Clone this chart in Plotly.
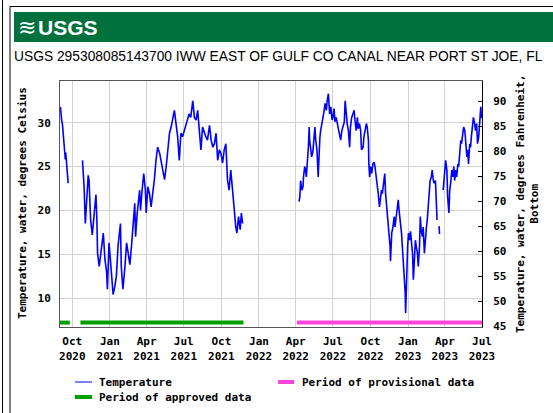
import plotly.graph_objects as go

# ---------------- data ----------------
seg1_dates = ["2020-09-02", "2020-09-03", "2020-09-05", "2020-09-07", "2020-09-09", "2020-09-11",
              "2020-09-13", "2020-09-14", "2020-09-15", "2020-09-17", "2020-09-19", "2020-09-21"]
seg1_temp = [31.8, 30.6, 30.3, 29.8, 28.4, 28.0, 26.3, 25.8, 26.6, 25.4, 24.0, 23.1]

seg2_dates = ["2020-10-26", "2020-10-28", "2020-10-30", "2020-11-02", "2020-11-05", "2020-11-09", "2020-11-11",
              "2020-11-15", "2020-11-19", "2020-11-24", "2020-11-28", "2020-11-30", "2020-12-02", "2020-12-06",
              "2020-12-09", "2020-12-12", "2020-12-16", "2020-12-20", "2020-12-24", "2020-12-26", "2020-12-30",
              "2021-01-03", "2021-01-09", "2021-01-13", "2021-01-17", "2021-01-21", "2021-01-27", "2021-01-29",
              "2021-02-02", "2021-02-07", "2021-02-11", "2021-02-15", "2021-02-19", "2021-02-23", "2021-02-27",
              "2021-03-03", "2021-03-05", "2021-03-09", "2021-03-15", "2021-03-17", "2021-03-21", "2021-03-25",
              "2021-03-29", "2021-03-31", "2021-04-04", "2021-04-08", "2021-04-12", "2021-04-16", "2021-04-20",
              "2021-04-24", "2021-04-28", "2021-05-03", "2021-05-07", "2021-05-11", "2021-05-15", "2021-05-19",
              "2021-05-23", "2021-05-27", "2021-05-31", "2021-06-04", "2021-06-08", "2021-06-12", "2021-06-16",
              "2021-06-20", "2021-06-24", "2021-06-28", "2021-07-02", "2021-07-06", "2021-07-10", "2021-07-14",
              "2021-07-18", "2021-07-23", "2021-07-27", "2021-07-31", "2021-08-04", "2021-08-08", "2021-08-12",
              "2021-08-16", "2021-08-20", "2021-08-24", "2021-08-28", "2021-09-02", "2021-09-06", "2021-09-10",
              "2021-09-14", "2021-09-18", "2021-09-22", "2021-09-26", "2021-09-30", "2021-10-04", "2021-10-08",
              "2021-10-12", "2021-10-16", "2021-10-20", "2021-10-24", "2021-10-28", "2021-11-01", "2021-11-05",
              "2021-11-08", "2021-11-12", "2021-11-16", "2021-11-19", "2021-11-22"]
seg2_temp = [25.7, 24.5, 22.7, 18.5, 21.0, 24.0, 23.5,
             18.9, 17.2, 19.7, 21.8, 19.3, 15.1, 13.6,
             14.8, 15.9, 17.4, 14.4, 13.0, 11.0, 16.3,
             14.0, 10.4, 11.3, 12.5, 15.9, 18.5, 13.6,
             11.0, 13.6, 16.3, 15.1, 13.8, 15.9, 18.5,
             20.8, 17.0, 19.7, 22.3, 20.0, 22.3, 24.2,
             22.3, 19.7, 22.7, 21.9, 20.4, 21.9, 23.5,
             25.7, 27.2, 26.5, 25.4, 24.6, 23.5, 25.0,
             27.2, 28.8, 29.5, 30.3, 31.4, 29.9, 28.4,
             25.7, 28.8, 28.4, 29.1, 29.9, 30.3, 31.0,
             30.6, 32.5, 30.6, 30.3, 31.4, 29.5, 26.9,
             29.5, 28.8, 28.4, 28.0, 29.7, 28.0, 27.2,
             27.6, 28.8, 25.7, 26.9, 26.5, 25.4, 26.9,
             27.6, 23.5, 22.3, 24.6, 21.9, 20.4, 18.2,
             17.4, 19.3, 17.8, 19.7, 18.5]

seg3_dates = ["2022-04-09", "2022-04-11", "2022-04-13", "2022-04-16", "2022-04-19", "2022-04-20", "2022-04-23",
              "2022-04-25", "2022-04-27", "2022-04-30", "2022-05-02", "2022-05-04", "2022-05-05", "2022-05-08",
              "2022-05-10", "2022-05-13", "2022-05-16", "2022-05-18", "2022-05-20", "2022-05-23", "2022-05-26",
              "2022-05-28", "2022-05-30", "2022-06-01", "2022-06-04", "2022-06-07", "2022-06-09", "2022-06-12",
              "2022-06-15", "2022-06-17", "2022-06-20", "2022-06-23", "2022-06-26", "2022-06-29", "2022-07-01",
              "2022-07-04", "2022-07-06", "2022-07-09", "2022-07-12", "2022-07-15", "2022-07-18", "2022-07-20",
              "2022-07-23", "2022-07-26", "2022-07-29", "2022-07-31", "2022-08-03", "2022-08-05", "2022-08-08",
              "2022-08-11", "2022-08-13", "2022-08-16", "2022-08-19", "2022-08-22", "2022-08-24", "2022-08-27",
              "2022-08-30", "2022-09-01", "2022-09-04", "2022-09-07", "2022-09-09", "2022-09-13", "2022-09-15",
              "2022-09-17", "2022-09-21", "2022-09-23", "2022-09-26", "2022-09-27", "2022-09-29", "2022-10-01",
              "2022-10-04", "2022-10-07", "2022-10-10", "2022-10-12", "2022-10-15", "2022-10-18", "2022-10-20",
              "2022-10-23", "2022-10-25", "2022-10-28", "2022-10-30", "2022-11-02", "2022-11-05", "2022-11-07",
              "2022-11-10", "2022-11-13", "2022-11-15", "2022-11-18", "2022-11-19", "2022-11-22", "2022-11-25",
              "2022-11-28", "2022-11-30", "2022-12-03", "2022-12-05", "2022-12-08", "2022-12-10", "2022-12-13",
              "2022-12-16", "2022-12-18", "2022-12-21", "2022-12-23", "2022-12-25", "2022-12-26", "2022-12-29",
              "2022-12-31", "2023-01-02", "2023-01-05", "2023-01-07", "2023-01-10", "2023-01-12", "2023-01-14",
              "2023-01-16", "2023-01-19", "2023-01-21", "2023-01-24", "2023-01-26", "2023-01-29", "2023-01-31",
              "2023-02-02", "2023-02-05", "2023-02-07", "2023-02-10", "2023-02-12", "2023-02-15", "2023-02-17",
              "2023-02-20", "2023-02-22", "2023-02-24", "2023-02-27", "2023-03-01", "2023-03-04", "2023-03-06",
              "2023-03-09", "2023-03-11", "2023-03-13"]
seg3_temp = [21.0, 21.5, 23.4, 22.3, 22.7, 23.8, 25.0,
             24.6, 23.8, 25.3, 27.2, 29.5, 28.0, 26.9,
             26.1, 26.7, 28.8, 29.5, 28.0, 26.9, 23.8,
             27.2, 28.2, 29.1, 29.9, 30.3, 31.2, 32.2,
             31.4, 32.5, 33.3, 31.0, 31.8, 30.3, 30.6,
             31.6, 30.1, 30.6, 29.9, 29.1, 28.6, 28.0,
             29.1, 29.5, 30.1, 32.5, 30.6, 29.9, 29.1,
             27.2, 29.5, 30.6, 31.0, 31.4, 30.3, 29.1,
             30.6, 29.3, 29.9, 29.1, 26.9, 27.2, 28.4,
             28.8, 29.9, 29.5, 28.0, 25.3, 23.8, 25.0,
             24.2, 25.3, 25.5, 25.0, 24.0, 22.7, 21.9,
             20.4, 21.5, 22.3, 21.9, 23.4, 24.2, 21.9,
             20.4, 18.9, 17.8, 15.9, 14.2, 17.4, 18.1,
             19.3, 18.1, 19.3, 20.4, 21.2, 20.0, 18.9,
             17.4, 15.9, 14.0, 12.5, 10.6, 8.3, 13.6,
             15.9, 17.4, 16.6, 17.6, 16.3, 15.1, 12.1,
             14.4, 16.6, 15.9, 15.1, 13.6, 15.9, 19.3,
             17.8, 17.0, 18.1, 15.1, 16.6, 18.1, 18.9,
             21.5, 22.3, 23.4, 23.8, 24.6, 23.4, 23.1,
             23.4, 21.5, 18.9]

seg4_dates = ["2023-03-18", "2023-03-19"]
seg4_temp = [18.2, 17.3]

seg5_dates = ["2023-03-28", "2023-03-30", "2023-04-01", "2023-04-03", "2023-04-06", "2023-04-08", "2023-04-11",
              "2023-04-13", "2023-04-16", "2023-04-18", "2023-04-20", "2023-04-23", "2023-04-25", "2023-04-28",
              "2023-04-30", "2023-05-03", "2023-05-05", "2023-05-08", "2023-05-10", "2023-05-12", "2023-05-15",
              "2023-05-17", "2023-05-20", "2023-05-22", "2023-05-25", "2023-05-27", "2023-05-29", "2023-06-01",
              "2023-06-03", "2023-06-05", "2023-06-08", "2023-06-10", "2023-06-13", "2023-06-15", "2023-06-18",
              "2023-06-20", "2023-06-23", "2023-06-25", "2023-06-28", "2023-06-30"]
seg5_temp = [22.3, 23.4, 25.0, 25.7, 24.6, 21.5, 19.7,
             22.3, 23.4, 24.6, 23.8, 25.0, 23.4, 24.6,
             23.8, 25.3, 25.0, 27.2, 28.0, 27.6, 28.8,
             29.5, 29.1, 28.0, 26.1, 26.9, 25.3, 27.6,
             27.2, 28.4, 29.5, 30.6, 29.9, 29.1, 29.9,
             27.6, 28.4, 29.9, 31.8, 30.5]

approved_periods = [("2020-09-01", "2020-09-25"), ("2020-10-21", "2021-11-24")]
provisional_periods = [("2022-04-04", "2023-07-01")]
period_level_c = 7.2

x_ticks = ["2020-10-01", "2021-01-01", "2021-04-01", "2021-07-01", "2021-10-01", "2022-01-01",
           "2022-04-01", "2022-07-01", "2022-10-01", "2023-01-01", "2023-04-01", "2023-07-01"]
x_tick_text = ["Oct<br>2020", "Jan<br>2021", "Apr<br>2021", "Jul<br>2021", "Oct<br>2021", "Jan<br>2022",
               "Apr<br>2022", "Jul<br>2022", "Oct<br>2022", "Jan<br>2023", "Apr<br>2023", "Jul<br>2023"]
c_ticks = [10, 15, 20, 25, 30]
f_ticks = [45, 50, 55, 60, 65, 70, 75, 80, 85, 90]

title_text = "USGS 295308085143700 IWW EAST OF GULF CO CANAL NEAR PORT ST JOE, FL"
left_title = "Temperature, water, degrees Celsius"
right_title = "Temperature, water, degrees Fahrenheit,<br>Bottom"

# ---------------- layout helpers ----------------
W, H = 553, 413
L, R, T, B = 60, 482, 81, 327


def px(x):
    return (x - L) / (R - L)


def py(y):
    return (B - y) / (B - T)


MONO = "DejaVu Sans Mono"
SANS = "Liberation Sans, Arial, sans-serif"
BLUE = "#0000FF"
GREEN = "#00A000"
PINK = "#FF44DD"

fig = go.Figure()

xs, ys = [], []
for d, v in [(seg1_dates, seg1_temp), (seg2_dates, seg2_temp), (seg3_dates, seg3_temp),
             (seg4_dates, seg4_temp), (seg5_dates, seg5_temp)]:
    xs += d + [None]
    ys += v + [None]

fig.add_trace(go.Scatter(x=xs, y=ys, mode="lines", line=dict(color=BLUE, width=1.6),
                         connectgaps=False, showlegend=False, yaxis="y"))

for s, e in approved_periods:
    fig.add_trace(go.Scatter(x=[s, e], y=[period_level_c, period_level_c], mode="lines",
                             line=dict(color=GREEN, width=4), showlegend=False))
for s, e in provisional_periods:
    fig.add_trace(go.Scatter(x=[s, e], y=[period_level_c, period_level_c], mode="lines",
                             line=dict(color=PINK, width=4), showlegend=False))

# invisible trace to activate right axis
fig.add_trace(go.Scatter(x=[x_ticks[0]], y=[60], yaxis="y2", mode="markers",
                         marker=dict(opacity=0), showlegend=False, hoverinfo="skip"))

fig.update_layout(
    width=W, height=H,
    margin=dict(l=L, r=W - R, t=T, b=H - B),
    paper_bgcolor="white", plot_bgcolor="white",
    showlegend=False,
    xaxis=dict(type="date", range=["2020-09-01", "2023-07-01"], tickvals=x_ticks, ticktext=x_tick_text,
               showgrid=True, gridcolor="#d2d2d2", gridwidth=1, showline=True, linecolor="#555",
               linewidth=1, mirror=True, ticks="", ticklabelstandoff=4,
               tickfont=dict(family=MONO, size=11, color="black", weight="bold"), zeroline=False),
    yaxis=dict(range=[6.7, 34.75], tickvals=c_ticks, showgrid=True, gridcolor="#d2d2d2", gridwidth=1,
               showline=True, linecolor="#555", linewidth=1, ticks="", ticklabelstandoff=6,
               tickfont=dict(family=MONO, size=11, color="black", weight="bold"), zeroline=False),
    yaxis2=dict(range=[44.9, 94], tickvals=f_ticks, overlaying="y", side="right", showgrid=False,
                showline=True, linecolor="black", linewidth=1, ticks="inside", ticklen=4, tickcolor="black",
                ticklabelstandoff=8, tickfont=dict(family=MONO, size=11, color="black", weight="bold"),
                zeroline=False),
)

shapes = []
# outer frame lines
shapes.append(dict(type="line", xref="paper", yref="paper", x0=px(2.5), x1=px(2.5), y0=py(0), y1=py(413),
                   line=dict(color="black", width=1)))
shapes.append(dict(type="line", xref="paper", yref="paper", x0=px(10), x1=px(10), y0=py(6.5), y1=py(413),
                   line=dict(color="black", width=1)))
shapes.append(dict(type="line", xref="paper", yref="paper", x0=px(10), x1=px(553), y0=py(6.5), y1=py(6.5),
                   line=dict(color="black", width=1)))
# header banner
shapes.append(dict(type="rect", xref="paper", yref="paper", x0=px(14), x1=px(553), y0=py(42), y1=py(12),
                   fillcolor="#00703C", line=dict(width=0), layer="below"))
# legend swatches
shapes.append(dict(type="line", xref="paper", yref="paper", x0=px(75), x1=px(92), y0=py(382), y1=py(382),
                   line=dict(color=BLUE, width=1)))
shapes.append(dict(type="line", xref="paper", yref="paper", x0=px(75), x1=px(92), y0=py(397), y1=py(397),
                   line=dict(color=GREEN, width=4)))
shapes.append(dict(type="line", xref="paper", yref="paper", x0=px(278), x1=px(294), y0=py(382), y1=py(382),
                   line=dict(color=PINK, width=4)))
fig.update_layout(shapes=shapes)

ann = []
ann.append(dict(text="≋", x=px(16), y=py(27), xref="paper", yref="paper", xanchor="left", yanchor="middle",
                showarrow=False, font=dict(family="DejaVu Sans", size=22, color="white")))
ann.append(dict(text="<b>USGS</b>", x=px(36), y=py(27), xref="paper", yref="paper", xanchor="left",
                yanchor="middle", showarrow=False,
                font=dict(family=SANS, size=21, color="white")))
ann.append(dict(text=title_text, x=px(12), y=py(57), xref="paper", yref="paper", xanchor="left",
                yanchor="middle", showarrow=False,
                font=dict(family=SANS, size=13.8, color="black")))
ann.append(dict(text=left_title, x=px(22), y=py(203), xref="paper", yref="paper", xanchor="center",
                yanchor="middle", textangle=-90, showarrow=False,
                font=dict(family=MONO, size=11, color="black", weight="bold")))
ann.append(dict(text=right_title, x=px(527), y=py(204), xref="paper", yref="paper", xanchor="center",
                yanchor="middle", textangle=-90, showarrow=False,
                font=dict(family=MONO, size=11, color="black", weight="bold")))
ann.append(dict(text="Temperature", x=px(97), y=py(382), xref="paper", yref="paper", xanchor="left",
                yanchor="middle", showarrow=False, font=dict(family=MONO, size=11, color="black", weight="bold")))
ann.append(dict(text="Period of approved data", x=px(97), y=py(397), xref="paper", yref="paper",
                xanchor="left", yanchor="middle", showarrow=False,
                font=dict(family=MONO, size=11, color="black", weight="bold")))
ann.append(dict(text="Period of provisional data", x=px(300), y=py(382), xref="paper", yref="paper",
                xanchor="left", yanchor="middle", showarrow=False,
                font=dict(family=MONO, size=11, color="black", weight="bold")))
fig.update_layout(annotations=ann)

fig.write_html("out.html")
